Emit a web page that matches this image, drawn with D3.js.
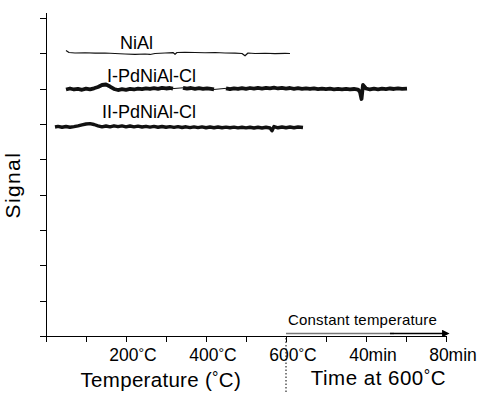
<!DOCTYPE html>
<html lang="en">
<head>
    <meta charset="UTF-8">
    <title>Signal vs Temperature</title>
    <script src="https://d3js.org/d3.v7.min.js"></script>
    <style>
        body { margin: 0; background: #fff; }
        svg { font-family: 'Liberation Sans', Arial, sans-serif; }
        .axis path,
        .axis line {
            fill: none;
            stroke: black;
            stroke-width: 1.3;
            shape-rendering: crispEdges;
        }
        .trace { fill: none; stroke: #111; stroke-linejoin: round; }
    </style>
</head>
<body>
    <svg width="482" height="393"></svg>

    <script>
        // x in temperature-equivalent units: 0-600 = degC, 600-1000 = 0-80 min at 600degC
        const xTickValues = [0, 100, 200, 300, 400, 500, 600, 700, 800, 900, 1000];
        const xLabelValues = [200, 400, 600, 800, 1000];
        const xLabels = [["200", "°C"], ["400", "°C"], ["600", "°C"], ["40min", ""], ["80min", ""]];
        const yTickValues = [0, 1, 2, 3, 4, 5, 6, 7, 8, 9];

        const seriesNames = ["NiAl", "I-PdNiAl-Cl", "II-PdNiAl-Cl"];

        const niAlX = [50, 57.5, 72.5, 97.5, 122.5, 147.5, 172.5, 197.5, 222.5, 247.5, 260, 272.5, 297.5, 317.5, 322.5,
            327.5, 347.5, 372.5, 397.5, 422.5, 447.5, 472.5, 490, 497.5, 505, 522.5, 547.5, 572.5, 597.5, 610];
        const niAlY = [8.081, 8.024, 8.010, 8.016, 8.005, 8.010, 7.996, 7.982, 7.973, 7.982, 7.968, 7.996, 8.010, 8.022, 7.974,
            8.024, 8.030, 8.024, 8.016, 8.024, 8.010, 8.005, 7.996, 7.931, 8.010, 7.996, 8.002, 7.993, 7.999, 7.996];

        // I-PdNiAl-Cl, three recorded pieces joined by thin lines
        const pd1X = [
            [50, 60, 70, 80, 90, 100, 110, 120, 130, 140, 150, 160, 170, 180, 190, 200, 210, 220, 230, 240, 250, 260,
                270, 280, 290, 300, 310, 317.5],
            [342.5, 352.5, 362.5, 372.5, 382.5, 392.5, 402.5, 412.5, 420],
            [450, 460, 470, 480, 490, 500, 510, 520, 530, 540, 550, 560, 570, 580, 590, 600, 610, 620, 630, 640, 650,
                660, 670, 680, 690, 700, 710, 720, 730, 740, 750, 760, 770, 780, 785, 788.75, 792.5, 800, 810, 820,
                830, 840, 850, 860, 870, 880, 890, 902.5]
        ];
        const pd1Y = [
            [6.977, 7.005, 6.977, 6.996, 6.968, 7.002, 6.979, 7.010, 7.047, 7.104, 7.118, 7.061, 6.991, 6.962, 6.985,
                6.968, 6.996, 6.977, 7.002, 6.985, 7.008, 6.991, 7.013, 6.996, 7.025, 7.005, 7.019, 7.002],
            [7.025, 7.002, 7.019, 6.996, 7.013, 6.993, 7.010, 6.991, 6.977],
            [7.010, 6.985, 7.008, 6.991, 7.013, 6.993, 7.019, 6.999, 7.022, 7.002, 7.025, 7.008, 7.027, 7.005, 7.025,
                7.002, 7.019, 6.996, 7.013, 6.993, 7.010, 6.991, 7.008, 6.988, 7.002, 6.985, 6.999, 6.982, 6.996, 6.979,
                6.993, 6.977, 6.991, 6.974, 6.906, 6.708, 7.104, 7.005, 6.977, 6.999, 6.982, 7.002, 6.985, 7.005, 6.991,
                7.008, 6.993, 7.002]
        ];

        const pd2X = [22.5, 30, 40, 50, 60, 70, 80, 90, 100, 110, 120, 130, 140, 150, 160, 170, 180, 190, 200, 210, 220,
            230, 240, 250, 260, 270, 280, 290, 300, 310, 320, 330, 340, 350, 360, 370, 380, 390, 400, 410, 420, 430,
            440, 450, 460, 470, 480, 490, 500, 510, 520, 530, 540, 550, 560, 565, 570, 580, 590, 600, 610, 620, 630, 642.5];
        const pd2Y = [5.915, 5.932, 5.909, 5.929, 5.907, 5.926, 5.949, 5.977, 6.000, 6.011, 5.986, 5.949, 5.918, 5.943,
            5.918, 5.949, 5.924, 5.946, 5.921, 5.943, 5.918, 5.938, 5.915, 5.935, 5.912, 5.932, 5.909, 5.929, 5.907,
            5.926, 5.904, 5.924, 5.901, 5.921, 5.898, 5.918, 5.898, 5.918, 5.895, 5.915, 5.895, 5.915, 5.893, 5.912,
            5.893, 5.912, 5.890, 5.909, 5.890, 5.909, 5.887, 5.907, 5.887, 5.907, 5.887, 5.808, 5.929, 5.893, 5.915,
            5.893, 5.915, 5.895, 5.915, 5.901];

        const svg = d3.select("svg"),
            margin = {top: 12, right: 36, bottom: 57, left: 46},
            width = +svg.attr("width") - margin.left - margin.right,
            height = +svg.attr("height") - margin.top - margin.bottom,
            g = svg.append("g").attr("transform", "translate(" + margin.left + "," + margin.top + ")");

        const x = d3.scaleLinear().domain([0, 1000]).range([0, width]);
        const y = d3.scaleLinear().domain([0, 9.17]).range([height, 0]);

        const zip = (xs, ys) => xs.map((v, i) => [v, ys[i]]);
        const line = d3.line().x(d => x(d[0])).y(d => y(d[1]));

        // degree sign drawn as a raised small "o"-like glyph
        function degC(t, size, rise) {
            t.append("tspan").attr("font-size", size).attr("dy", -rise).text("°");
            t.append("tspan").attr("dy", rise).text("C");
        }

        // axes
        g.append("g")
            .attr("class", "axis")
            .call(d3.axisLeft(y).tickValues(yTickValues).tickSize(6).tickSizeOuter(0).tickFormat(""));

        g.append("g")
            .attr("class", "axis")
            .attr("transform", "translate(0," + height + ")")
            .call(d3.axisBottom(x).tickValues(xTickValues).tickSize(6).tickSizeOuter(0).tickFormat(""));

        // tick labels
        const lab = g.append("g").attr("font-size", 17.5);
        xLabelValues.forEach(function (v, i) {
            const t = lab.append("text")
                .attr("x", x(v) + 7)
                .attr("y", height + 25)
                .attr("text-anchor", "middle");
            t.append("tspan").text(xLabels[i][0]);
            if (xLabels[i][1]) degC(t, 14, 3);
        });

        // axis titles
        const t1 = g.append("text")
            .attr("x", x(287))
            .attr("y", height + 51)
            .attr("text-anchor", "middle")
            .attr("font-size", 20.5)
            .attr("letter-spacing", 0.3);
        t1.append("tspan").text("Temperature (");
        degC(t1, 16, 4);
        t1.append("tspan").text(")");

        const t2 = g.append("text")
            .attr("x", x(831))
            .attr("y", height + 49)
            .attr("text-anchor", "middle")
            .attr("font-size", 20.5)
            .attr("letter-spacing", 0.5);
        t2.append("tspan").text("Time at 600");
        degC(t2, 16, 4);

        g.append("text")
            .attr("transform", "translate(" + (-26) + "," + y(4.27) + ") rotate(-90)")
            .attr("text-anchor", "middle")
            .attr("font-size", 21)
            .attr("letter-spacing", 1.4)
            .text("Signal");

        // divider between temperature ramp and isothermal part
        g.append("line")
            .attr("x1", x(600)).attr("x2", x(600))
            .attr("y1", height + 2).attr("y2", height + 57)
            .attr("stroke", "#000")
            .attr("stroke-width", 1)
            .attr("stroke-dasharray", "1.5,2");

        // constant temperature arrow
        svg.append("defs").append("marker")
            .attr("id", "arrow")
            .attr("viewBox", "0 0 10 10")
            .attr("refX", 1).attr("refY", 5)
            .attr("markerWidth", 5).attr("markerHeight", 5)
            .attr("markerUnits", "strokeWidth")
            .attr("orient", "auto")
            .append("path").attr("d", "M0,0L10,5L0,10z").attr("fill", "#000");

        g.append("line")
            .attr("x1", x(600)).attr("x2", x(870))
            .attr("y1", height - 2.5).attr("y2", height - 2.5)
            .attr("stroke", "#777").attr("stroke-width", 1.5);
        g.append("line")
            .attr("x1", x(860)).attr("x2", x(992))
            .attr("y1", height - 2.5).attr("y2", height - 2.5)
            .attr("stroke", "#000").attr("stroke-width", 1.5)
            .attr("marker-end", "url(#arrow)");

        g.append("text")
            .attr("x", x(605))
            .attr("y", height - 11)
            .attr("font-size", 15)
            .attr("letter-spacing", 0.2)
            .text("Constant temperature");

        // traces
        g.append("path")
            .datum(zip(niAlX, niAlY))
            .attr("class", "trace")
            .attr("stroke-width", 1.2)
            .attr("d", line);

        const pieces = pd1X.map((xs, i) => zip(xs, pd1Y[i]));
        pieces.forEach(function (p, i) {
            g.append("path").datum(p).attr("class", "trace").attr("stroke-width", 3.8).attr("d", line);
            if (i < pieces.length - 1) {
                const next = pieces[i + 1];
                g.append("path").datum([p[p.length - 1], next[0]])
                    .attr("class", "trace").attr("stroke-width", 1).attr("d", line);
            }
        });

        g.append("path")
            .datum(zip(pd2X, pd2Y))
            .attr("class", "trace")
            .attr("stroke-width", 3.4)
            .attr("d", line);

        // series labels
        const seriesLabelPos = [[226, 8.11], [264, 7.2], [257.5, 6.17]];
        seriesNames.forEach(function (name, i) {
            g.append("text")
                .attr("x", x(seriesLabelPos[i][0]))
                .attr("y", y(seriesLabelPos[i][1]))
                .attr("text-anchor", "middle")
                .attr("font-size", 18)
                .text(name);
        });
    </script>
</body>
</html>
